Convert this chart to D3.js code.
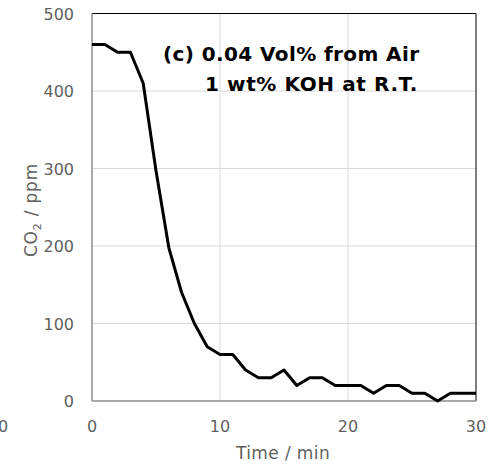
<!DOCTYPE html>
<html lang="en">
<head>
<meta charset="UTF-8">
<title>CO2 capture</title>
<script src="https://cdn.jsdelivr.net/npm/d3@7"></script>
<style>
  body { margin: 0; background: #fff; }
  text { font-family: "DejaVu Sans", sans-serif; }
</style>
</head>
<body>
<svg id="chart" width="495" height="464"></svg>
<script>
// minutes and CO2 readings
var times = [0, 1, 2, 3, 4, 5, 6, 7, 8, 9, 10, 11, 12, 13, 14, 15, 16, 17, 18, 19, 20,
             21, 22, 23, 24, 25, 26, 27, 28, 29, 30];
var co2 = [460, 460, 450, 450, 410, 297, 198, 140, 100, 70, 60, 60, 40, 30, 30, 40, 20, 30, 30, 20, 20,
           20, 10, 20, 20, 10, 10, 0, 10, 10, 10];
var xTicks = [0, 10, 20, 30];
var yTicks = [0, 100, 200, 300, 400, 500];
var titleLines = ["(c) 0.04 Vol% from Air", "1 wt% KOH at R.T."];

var svg = d3.select("#chart");
var pL = 92, pT = 13.5, pR = 476, pB = 401;

var x = d3.scaleLinear().domain([0, 30]).range([pL, pR]);
var y = d3.scaleLinear().domain([0, 500]).range([pB, pT]);

// gridlines
svg.append("g").selectAll("line").data(yTicks.slice(1, 5)).enter().append("line")
  .attr("x1", pL).attr("x2", pR)
  .attr("y1", function (d) { return y(d); }).attr("y2", function (d) { return y(d); })
  .attr("stroke", "#d9d9d9").attr("stroke-width", 1);
svg.append("g").selectAll("line").data(xTicks.slice(1, 3)).enter().append("line")
  .attr("y1", pT).attr("y2", pB)
  .attr("x1", function (d) { return x(d); }).attr("x2", function (d) { return x(d); })
  .attr("stroke", "#d9d9d9").attr("stroke-width", 1);

// frame: top/right black, left/bottom gray axes
svg.append("line").attr("x1", pL).attr("x2", pR).attr("y1", pT).attr("y2", pT)
  .attr("stroke", "#000").attr("stroke-width", 1);
svg.append("line").attr("x1", pR).attr("x2", pR).attr("y1", pT).attr("y2", pB)
  .attr("stroke", "#000").attr("stroke-width", 1);
svg.append("line").attr("x1", pL).attr("x2", pL).attr("y1", pT).attr("y2", pB)
  .attr("stroke", "#8c8c8c").attr("stroke-width", 1.5);
svg.append("line").attr("x1", pL).attr("x2", pR).attr("y1", pB).attr("y2", pB)
  .attr("stroke", "#8c8c8c").attr("stroke-width", 1.5);

// tick labels
svg.append("g").selectAll("text").data(yTicks).enter().append("text")
  .attr("x", 74).attr("y", function (d) { return y(d) + 6; })
  .attr("text-anchor", "end").attr("font-size", 16).attr("fill", "#5f5f5f")
  .text(function (d) { return d; });
svg.append("g").selectAll("text").data(xTicks).enter().append("text")
  .attr("x", function (d) { return x(d); }).attr("y", 432)
  .attr("text-anchor", "middle").attr("font-size", 16).attr("fill", "#5f5f5f")
  .text(function (d) { return d; });
// stray label at the far left edge (cut off in the original too)
svg.append("text").attr("x", 3).attr("y", 432).attr("text-anchor", "middle")
  .attr("font-size", 16).attr("fill", "#5f5f5f").text("0");

// axis titles
svg.append("text").attr("x", 283).attr("y", 459).attr("text-anchor", "middle")
  .attr("font-size", 17).attr("letter-spacing", 0.4).attr("fill", "#5f5f5f").text("Time / min");
var yl = svg.append("text").attr("transform", "translate(37,210) rotate(-90)")
  .attr("text-anchor", "middle").attr("font-size", 17).attr("letter-spacing", 0.8)
  .attr("fill", "#5f5f5f");
yl.append("tspan").text("CO");
yl.append("tspan").attr("font-size", 11).attr("dy", 4).text("2");
yl.append("tspan").attr("dy", -4).text(" / ppm");

// data line
var line = d3.line()
  .x(function (d, i) { return x(times[i]); })
  .y(function (d) { return y(d); });
svg.append("path").datum(co2).attr("d", line)
  .attr("fill", "none").attr("stroke", "#000").attr("stroke-width", 3)
  .attr("stroke-linejoin", "round");

// annotation
svg.append("text").attr("x", 163).attr("y", 61).attr("font-size", 20)
  .attr("letter-spacing", 0.4).attr("font-weight", "bold").text(titleLines[0]);
svg.append("text").attr("x", 205).attr("y", 91).attr("font-size", 20)
  .attr("letter-spacing", 0.6).attr("font-weight", "bold").text(titleLines[1]);
</script>
</body>
</html>
